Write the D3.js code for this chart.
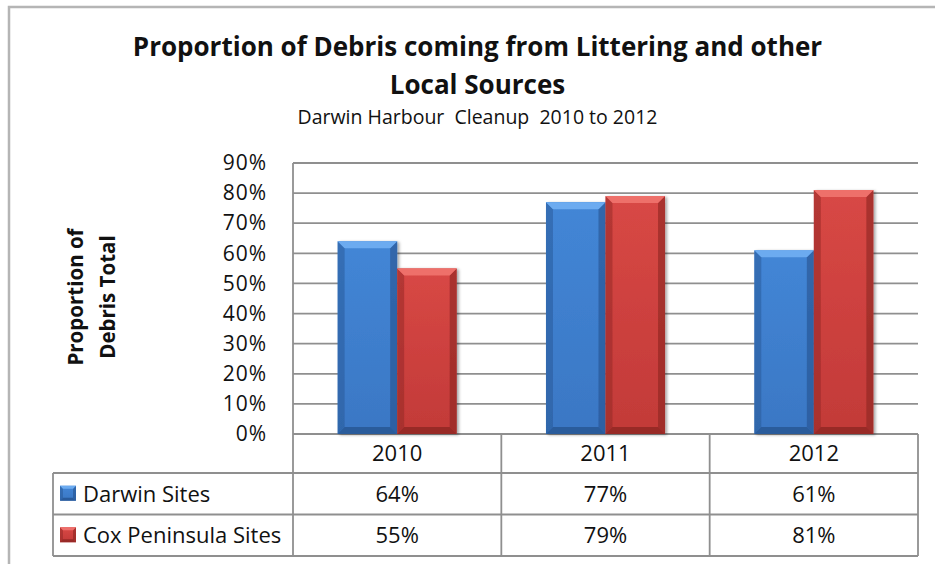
<!DOCTYPE html>
<html>
<head>
<meta charset="utf-8">
<script src="https://cdn.jsdelivr.net/npm/d3@7/dist/d3.min.js"></script>
<style>
  html, body { margin: 0; padding: 0; background: #fff; }
  svg { display: block; font-family: "Open Sans", sans-serif; }
</style>
</head>
<body>
<div id="chart"></div>
<script>
const years = ['2010', '2011', '2012'];
const seriesNames = ['Darwin Sites', 'Cox Peninsula Sites'];
const darwinValues = [0.64, 0.77, 0.61];
const coxValues = [0.55, 0.79, 0.81];
const yTicks = [0, 0.1, 0.2, 0.3, 0.4, 0.5, 0.6, 0.7, 0.8, 0.9];
const titleLines = ['Proportion of Debris coming from Littering and other', 'Local Sources'];
const subtitle = 'Darwin Harbour  Cleanup  2010 to 2012';
const yTitleLines = ['Proportion of', 'Debris Total'];

(function(){
  const width = 935, height = 564;
  const plot = {left: 293, right: 918, top: 163, bottom: 434};
  const table = {left: 53, headerH: 39, rowH: 41.5};
  const lineColor = '#8f8f8f';

  // Shaded "bevel" palettes, like Excel's preset bar style.
  const palettes = [
    {main: '#3a77c4', light: '#6cabf0', dark: '#24528e', mid: '#4386d6'},
    {main: '#c23a38', light: '#ee6f6b', dark: '#8a2422', mid: '#d84845'}
  ];

  const rows = years.map((year, i) => ({year, values: [darwinValues[i], coxValues[i]]}));

  const svg = d3.select('#chart').append('svg')
    .attr('width', width).attr('height', height);

  const defs = svg.append('defs');
  palettes.forEach((p, i) => {
    const g = defs.append('linearGradient').attr('id', `body-${i}`)
      .attr('x1', 0).attr('x2', 0).attr('y1', 0).attr('y2', 1);
    g.append('stop').attr('offset', '0%').attr('stop-color', p.mid);
    g.append('stop').attr('offset', '100%').attr('stop-color', p.main);
  });
  const shadow = defs.append('filter').attr('id', 'shadow')
    .attr('x', '-10%').attr('y', '-10%').attr('width', '130%').attr('height', '130%');
  shadow.append('feDropShadow').attr('dx', 2).attr('dy', 1).attr('stdDeviation', 1.5)
    .attr('flood-color', '#000').attr('flood-opacity', 0.35);

  // Outer chart frame (only top and left edges fall inside the view).
  svg.append('rect')
    .attr('x', 9).attr('y', 7).attr('width', width + 20).attr('height', height + 20)
    .attr('fill', 'none').attr('stroke', '#b5b5b5').attr('stroke-width', 2.5);

  // Titles.
  const titles = svg.append('g').attr('text-anchor', 'middle').attr('fill', '#111');
  titles.selectAll('text.title')
    .data(titleLines)
    .join('text')
    .attr('class', 'title')
    .attr('x', 477.5)
    .attr('y', (d, i) => 56 + i * 38)
    .style('font-size', '26px')
    .style('font-weight', 700)
    .text(d => d);
  titles.append('text')
    .attr('x', 477.5).attr('y', 124)
    .style('font-size', '19.5px')
    .style('white-space', 'pre')
    .text(subtitle);

  // Scales.
  const x = d3.scaleBand().domain(years).range([plot.left, plot.right]);
  const bw = x.bandwidth() / 3.5; // gap width 150%
  const xs = d3.scaleBand().domain(d3.range(seriesNames.length))
    .range([bw * 0.75, bw * 2.75]);
  const y = d3.scaleLinear().domain([0, 0.9]).range([plot.bottom, plot.top]);

  // Horizontal gridlines.
  svg.append('g').selectAll('line')
    .data(yTicks)
    .join('line')
    .attr('x1', plot.left).attr('x2', plot.right)
    .attr('y1', d => y(d)).attr('y2', d => y(d))
    .attr('stroke', lineColor).attr('stroke-width', 1.8);

  // Y axis labels.
  const yAxis = svg.append('g')
    .attr('transform', `translate(${plot.left},0)`)
    .call(d3.axisLeft(y).tickValues(yTicks).tickSize(0).tickPadding(26).tickFormat(d3.format('.0%')));
  yAxis.select('.domain').remove();
  yAxis.selectAll('text')
    .attr('fill', '#111')
    .style('font-family', '"Open Sans", sans-serif')
    .style('font-size', '21px')
    .style('letter-spacing', '1px');

  // Rotated axis title on two lines.
  svg.append('g').selectAll('text')
    .data(yTitleLines)
    .join('text')
    .attr('transform', (d, i) => `translate(${83 + i * 32},297) rotate(-90)`)
    .attr('text-anchor', 'middle')
    .attr('fill', '#111')
    .style('font-size', '20.5px')
    .style('font-weight', 700)
    .text(d => d);

  // Beveled bar drawing helper.
  function bevelBar(g, bx, by, w, h, p, idx, b){
    g.append('rect').attr('x', bx).attr('y', by).attr('width', w).attr('height', h)
      .attr('fill', `url(#body-${idx})`);
    const poly = (pts, fill, op) => g.append('polygon')
      .attr('points', pts.map(q => q.join(',')).join(' '))
      .attr('fill', fill).attr('fill-opacity', op);
    poly([[bx, by], [bx + b, by + b], [bx + b, by + h - b], [bx, by + h]], p.dark, 0.45);
    poly([[bx + w, by], [bx + w - b, by + b], [bx + w - b, by + h - b], [bx + w, by + h]], p.dark, 0.6);
    poly([[bx, by + h], [bx + b, by + h - b], [bx + w - b, by + h - b], [bx + w, by + h]], p.dark, 0.75);
    poly([[bx, by], [bx + w, by], [bx + w - b, by + b], [bx + b, by + b]], p.light, 1);
  }

  // Bars.
  const groups = svg.append('g').selectAll('g.year')
    .data(rows)
    .join('g')
    .attr('class', 'year')
    .attr('transform', d => `translate(${x(d.year)},0)`);
  groups.each(function(d){
    const g = d3.select(this);
    d.values.forEach((v, i) => {
      const bar = g.append('g').attr('filter', 'url(#shadow)');
      bevelBar(bar, xs(i), y(v), xs.bandwidth(), y(0) - y(v), palettes[i], i, 7);
    });
  });

  // Data table under the plot.
  const rowTops = [plot.bottom + table.headerH, plot.bottom + table.headerH + table.rowH];
  const tableBottom = rowTops[1] + table.rowH;
  const grid = svg.append('g').attr('stroke', lineColor).attr('stroke-width', 1.8);
  grid.selectAll('line.h')
    .data(rowTops.concat([tableBottom]))
    .join('line')
    .attr('class', 'h')
    .attr('x1', table.left).attr('x2', plot.right)
    .attr('y1', d => d).attr('y2', d => d);
  grid.append('line')
    .attr('x1', table.left).attr('x2', table.left)
    .attr('y1', rowTops[0]).attr('y2', tableBottom);
  grid.append('line')
    .attr('x1', plot.left).attr('x2', plot.left)
    .attr('y1', plot.top).attr('y2', tableBottom);
  grid.selectAll('line.v')
    .data(years)
    .join('line')
    .attr('class', 'v')
    .attr('x1', d => x(d) + x.bandwidth()).attr('x2', d => x(d) + x.bandwidth())
    .attr('y1', plot.bottom).attr('y2', tableBottom);

  const cells = svg.append('g').attr('fill', '#111').style('font-size', '22px');
  cells.selectAll('text.year')
    .data(years)
    .join('text')
    .attr('class', 'year')
    .attr('x', d => x(d) + x.bandwidth() / 2)
    .attr('y', plot.bottom + table.headerH / 2)
    .attr('dy', '0.36em')
    .attr('text-anchor', 'middle')
    .text(d => d);

  const fmt = d3.format('.0%');
  seriesNames.forEach((name, si) => {
    const cy = rowTops[si] + table.rowH / 2;
    const key = cells.append('g');
    bevelBar(key, 60, cy - 8, 16, 15, palettes[si], si, 3);
    cells.append('text')
      .attr('x', 83).attr('y', cy).attr('dy', '0.36em')
      .text(name);
    cells.selectAll(`text.v${si}`)
      .data(rows)
      .join('text')
      .attr('class', `v${si}`)
      .attr('x', d => x(d.year) + x.bandwidth() / 2)
      .attr('y', cy).attr('dy', '0.36em')
      .attr('text-anchor', 'middle')
      .text(d => fmt(d.values[si]));
  });
})();
</script>
</body>
</html>
